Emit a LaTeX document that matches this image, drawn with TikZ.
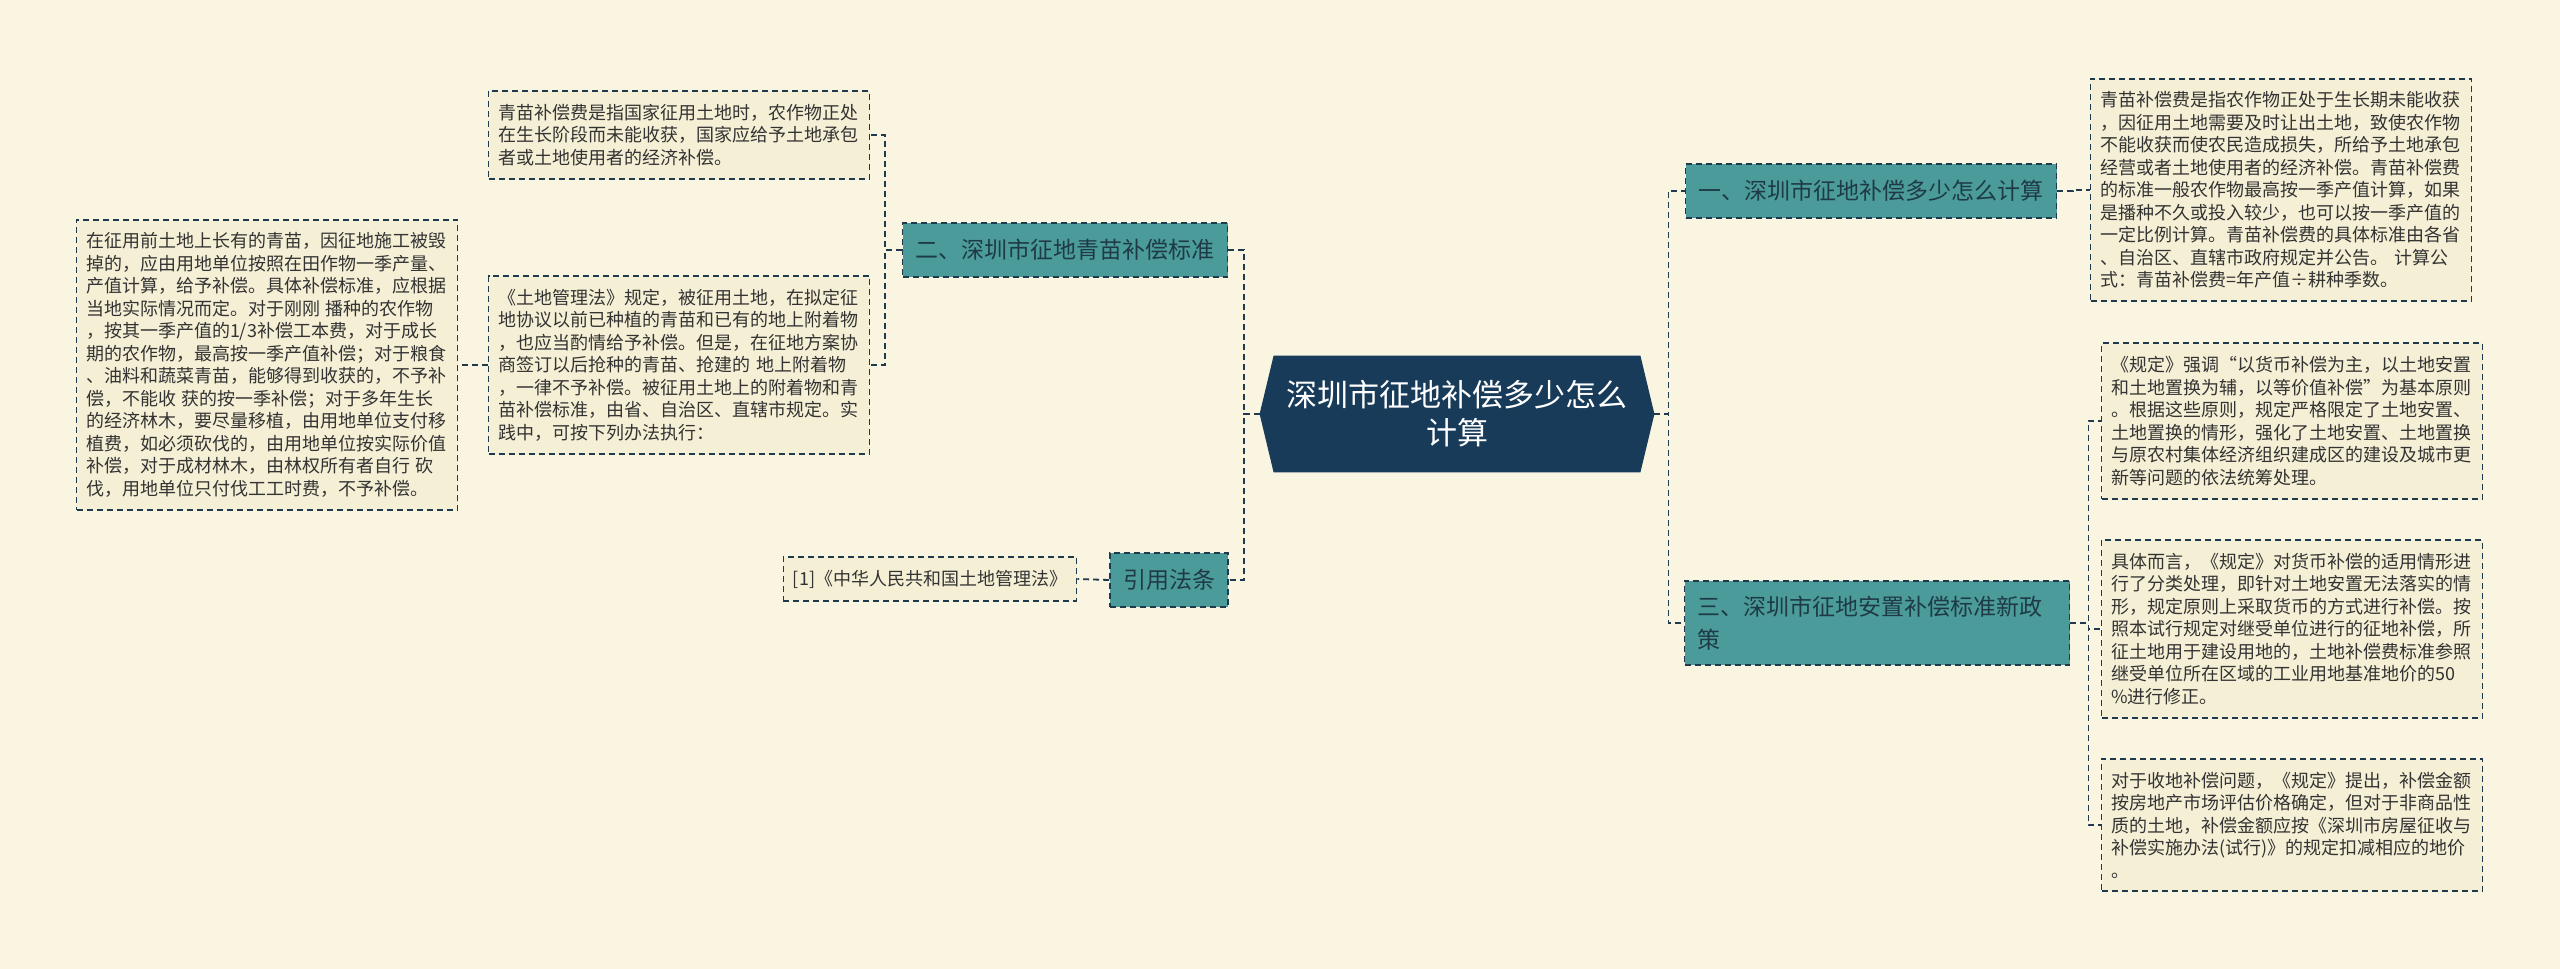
\documentclass[tikz,border=0pt]{standalone}
\usepackage{fontspec}
\setmainfont{Noto Sans CJK SC}
\usepackage{xcolor}
\usepackage{tikz}
\usetikzlibrary{positioning,backgrounds}

\definecolor{paper}{HTML}{FAF5E1}
\definecolor{notefill}{HTML}{F5EFD5}
\definecolor{branchfill}{HTML}{4C9B9B}
\definecolor{branchink}{HTML}{1E3A48}
\definecolor{navy}{HTML}{173B59}
\definecolor{edge}{HTML}{1F3A4D}
\definecolor{ink}{HTML}{333333}

\begin{document}
\begin{tikzpicture}[
  x=0.5pt, y=-0.5pt,
  font=\fontsize{9pt}{11.25pt}\selectfont,
  hub/.style={align=center, text=white, font=\fontsize{15.5pt}{19pt}\selectfont, minimum width=183pt, minimum height=58pt, inner sep=0pt},
  branch/.style={draw=edge, line width=0.9pt, dash pattern=on 3pt off 2pt, fill=branchfill, text=branchink, align=left, font=\fontsize{11.5pt}{16.5pt}\selectfont, inner xsep=6.5pt, inner ysep=7.5pt, minimum height=27pt},
  card/.style={draw=edge, line width=0.9pt, dash pattern=on 3pt off 2pt, fill=notefill, text=ink, inner xsep=4.75pt, inner ysep=6.5pt},
  note/.style={card, align=left, text width=181pt},
  link/.style={draw=edge, line width=0.9pt, dash pattern=on 3pt off 2pt}
]
\useasboundingbox (0,0) rectangle (2560,969);
% centre
\node[hub] (hub) at (1457,414) {深圳市征地补偿多少怎么\\计算};
\coordinate (hubL) at ([xshift=-7pt]hub.west);
\coordinate (hubR) at ([xshift=7pt]hub.east);
\begin{scope}[on background layer]
  \fill[paper] (0,0) rectangle (2560,969);
  \fill[navy] (hub.north west) -- (hub.north east) -- (hubR) -- (hub.south east) -- (hub.south west) -- (hubL) -- cycle;
\end{scope}
% right branches
\node[branch] (b1) at (1871,191) {一、深圳市征地补偿多少怎么计算};
\node[branch, text width=179.5pt] (b3) at (1877,623) {三、深圳市征地安置补偿标准新政\\策};
% left branches
\node[branch] (b2) at (1065,250) {二、深圳市征地青苗补偿标准};
\node[branch] (cite) at (1169,580) {引用法条};
% notes of branch one
\node[note] (n11) at (2281,190) {青苗补偿费是指农作物正处于生长期未能收获\\，因征用土地需要及时让出土地，致使农作物\\不能收获而使农民造成损失，所给予土地承包\\经营或者土地使用者的经济补偿。青苗补偿费\\的标准一般农作物最高按一季产值计算，如果\\是播种不久或投入较少，也可以按一季产值的\\一定比例计算。青苗补偿费的具体标准由各省\\、自治区、直辖市政府规定并公告。 计算公\\式：青苗补偿费=年产值÷耕种季数。};
% notes of branch three
\node[note] (n31) at (2292,421) {《规定》强调“以货币补偿为主，以土地安置\\和土地置换为辅，以等价值补偿”为基本原则\\。根据这些原则，规定严格限定了土地安置、\\土地置换的情形，强化了土地安置、土地置换\\与原农村集体经济组织建成区的建设及城市更\\新等问题的依法统筹处理。};
\node[note] (n32) at (2292,629) {具体而言，《规定》对货币补偿的适用情形进\\行了分类处理，即针对土地安置无法落实的情\\形，规定原则上采取货币的方式进行补偿。按\\照本试行规定对继受单位进行的征地补偿，所\\征土地用于建设用地的，土地补偿费标准参照\\继受单位所在区域的工业用地基准地价的50\\\%进行修正。};
\node[note] (n33) at (2292,825) {对于收地补偿问题，《规定》提出，补偿金额\\按房地产市场评估价格确定，但对于非商品性\\质的土地，补偿金额应按《深圳市房屋征收与\\补偿实施办法(试行)》的规定扣减相应的地价\\。};
% notes of branch two
\node[note] (n21) at (679,135) {青苗补偿费是指国家征用土地时，农作物正处\\在生长阶段而未能收获，国家应给予土地承包\\者或土地使用者的经济补偿。};
\node[note] (n22) at (679,365) {《土地管理法》规定，被征用土地，在拟定征\\地协议以前已种植的青苗和已有的地上附着物\\，也应当酌情给予补偿。但是，在征地方案协\\商签订以后抢种的青苗、抢建的 地上附着物\\，一律不予补偿。被征用土地上的附着物和青\\苗补偿标准，由省、自治区、直辖市规定。实\\践中，可按下列办法执行：};
\node[note] (n23) at (267,365) {在征用前土地上长有的青苗，因征地施工被毁\\掉的，应由用地单位按照在田作物一季产量、\\产值计算，给予补偿。具体补偿标准，应根据\\当地实际情况而定。对于刚刚 播种的农作物\\，按其一季产值的1/3补偿工本费，对于成长\\期的农作物，最高按一季产值补偿；对于粮食\\、油料和蔬菜青苗，能够得到收获的，不予补\\偿，不能收 获的按一季补偿；对于多年生长\\的经济林木，要尽量移植，由用地单位支付移\\植费，如必须砍伐的，由用地单位按实际价值\\补偿，对于成材林木，由林权所有者自行 砍\\伐，用地单位只付伐工工时费，不予补偿。};
% cited law
\node[card, minimum width=146pt] (law) at (930,579) {[1]《中华人民共和国土地管理法》};
% connectors
\foreach \b in {b1,b3}{\draw[link] (hubR) -- ++(14,0) |- (\b.west);}
\foreach \b in {b2,cite}{\draw[link] (hubL) -- ++(-16,0) |- (\b.east);}
\draw[link] (b1.east) -- ++(16,0) |- (n11.west);
\foreach \n in {n31,n32,n33}{\draw[link] (b3.east) -- ++(18,0) |- (\n.west);}
\foreach \n in {n21,n22}{\draw[link] (b2.west) -- ++(-17,0) |- (\n.east);}
\draw[link] (n22.west) -- (n23.east);
\draw[link] (cite.west) -- (law.east);
\end{tikzpicture}
\end{document}
